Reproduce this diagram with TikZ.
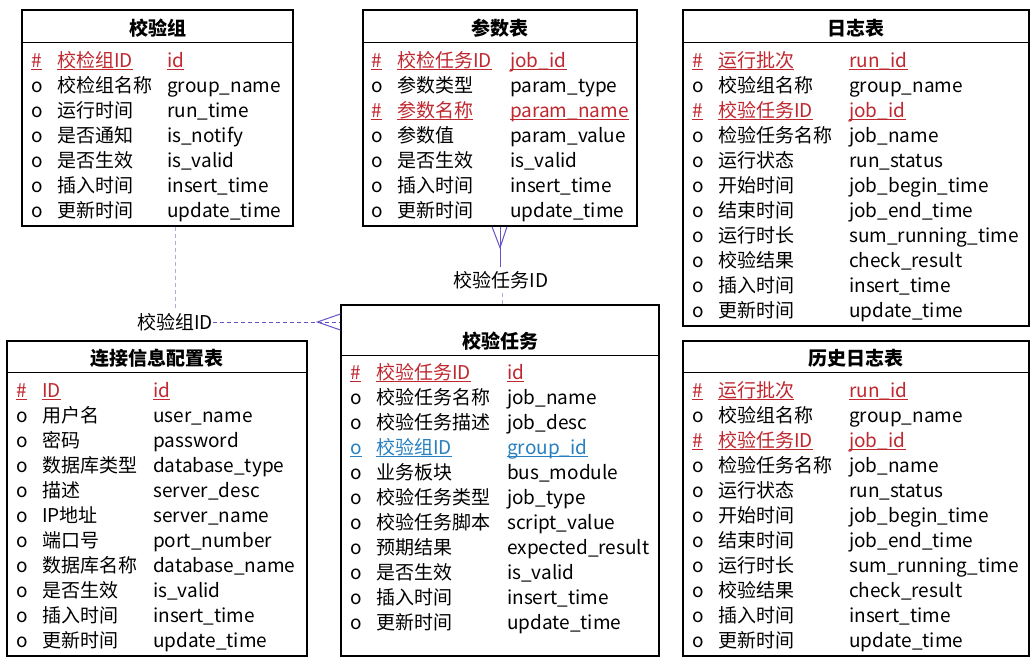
\documentclass[tikz,border=0pt]{standalone}
\usepackage{fontspec}
\setmainfont{Noto Sans CJK SC}
\definecolor{keyred}{RGB}{192,40,48}
\definecolor{keyblue}{RGB}{40,128,192}
\definecolor{relline}{RGB}{100,84,200}
\definecolor{relfaint}{RGB}{176,172,214}
\tikzset{
  tablebox/.style={draw=black, line width=1.3pt, inner sep=0pt},
  headline/.style={draw=black, line width=1.3pt},
  title/.style={anchor=base, inner sep=0pt, font=\fontsize{19}{21}\selectfont\bfseries},
  cell/.style={anchor=base west, inner sep=0pt, font=\fontsize{19}{21}\selectfont},
  rellabel/.style={inner sep=0pt, font=\fontsize{19}{21}\selectfont},
  crow/.style={draw=relline, line width=1pt},
  reldash/.style={draw=relline, line width=0.9pt, dash pattern=on 4pt off 3pt},
  faintdash/.style={draw=relfaint, line width=0.9pt, dash pattern=on 4pt off 3pt},
}
% column positions of the marker, the Chinese name and the field name
\newcommand\setcols[3]{\def\mx{#1}\def\cx{#2}\def\ex{#3}}
% one attribute row: prefix, baseline y, marker, name, field
\newcommand\tblrow[5]{%
  \node[cell] (#1-m) at (\mx,#2) {#3};
  \node[cell] (#1-c) at (\cx,#2) {#4};
  \node[cell] (#1-e) at (\ex,#2) {#5};}
% key row: coloured and underlined, last argument is the colour
\newcommand\keyrow[6]{%
  \node[cell,text=#6] (#1-m) at (\mx,#2) {#3};
  \node[cell,text=#6] (#1-c) at (\cx,#2) {#4};
  \node[cell,text=#6] (#1-e) at (\ex,#2) {#5};
  \foreach \part in {m,c,e}
    \draw[draw=#6, line width=1.6pt]
      ([yshift=-2.5pt]#1-\part.base west) -- ([yshift=-2.5pt]#1-\part.base east);}
\begin{document}
\begin{tikzpicture}[x=1pt,y=-1pt]
\useasboundingbox (0,0) rectangle (1036,664);
\fill[white] (0,0) rectangle (1036,664);

% ---------- 校验组 ----------
\node[tablebox, minimum width=271pt, minimum height=216pt] (grp) at (157.5,118) {};
\draw[headline] ([yshift=-33pt]grp.north west) -- ([yshift=-33pt]grp.north east);
\node[title] (grp-t) at (157.5,35) {校验组};
\setcols{31}{57}{167}
\keyrow{grp1}{67}{\#}{校检组ID}{id}{keyred}
\tblrow{grp2}{92}{o}{校检组名称}{group\_name}
\tblrow{grp3}{117}{o}{运行时间}{run\_time}
\tblrow{grp4}{142}{o}{是否通知}{is\_notify}
\tblrow{grp5}{167}{o}{是否生效}{is\_valid}
\tblrow{grp6}{192}{o}{插入时间}{insert\_time}
\tblrow{grp7}{217}{o}{更新时间}{update\_time}

% ---------- 参数表 ----------
\node[tablebox, minimum width=274pt, minimum height=216pt] (par) at (500,118) {};
\draw[headline] ([yshift=-33pt]par.north west) -- ([yshift=-33pt]par.north east);
\node[title] (par-t) at (500,35) {参数表};
\setcols{371}{397}{510}
\keyrow{par1}{67}{\#}{校检任务ID}{job\_id}{keyred}
\tblrow{par2}{92}{o}{参数类型}{param\_type}
\keyrow{par3}{117}{\#}{参数名称}{param\_name}{keyred}
\tblrow{par4}{142}{o}{参数值}{param\_value}
\tblrow{par5}{167}{o}{是否生效}{is\_valid}
\tblrow{par6}{192}{o}{插入时间}{insert\_time}
\tblrow{par7}{217}{o}{更新时间}{update\_time}

% ---------- 日志表 ----------
\node[tablebox, minimum width=346pt, minimum height=316pt] (log) at (856,168) {};
\draw[headline] ([yshift=-33pt]log.north west) -- ([yshift=-33pt]log.north east);
\node[title] (log-t) at (856,35) {日志表};
\setcols{692}{718}{849}
\keyrow{log1}{67}{\#}{运行批次}{run\_id}{keyred}
\tblrow{log2}{92}{o}{校验组名称}{group\_name}
\keyrow{log3}{117}{\#}{校验任务ID}{job\_id}{keyred}
\tblrow{log4}{142}{o}{检验任务名称}{job\_name}
\tblrow{log5}{167}{o}{运行状态}{run\_status}
\tblrow{log6}{192}{o}{开始时间}{job\_begin\_time}
\tblrow{log7}{217}{o}{结束时间}{job\_end\_time}
\tblrow{log8}{242}{o}{运行时长}{sum\_running\_time}
\tblrow{log9}{267}{o}{校验结果}{check\_result}
\tblrow{log10}{292}{o}{插入时间}{insert\_time}
\tblrow{log11}{317}{o}{更新时间}{update\_time}

% ---------- 连接信息配置表 ----------
\node[tablebox, minimum width=300pt, minimum height=315pt] (conn) at (157,498.5) {};
\draw[headline] ([yshift=-32pt]conn.north west) -- ([yshift=-32pt]conn.north east);
\node[title] (conn-t) at (157,365) {连接信息配置表};
\setcols{16}{42}{153}
\keyrow{conn1}{397}{\#}{ID}{id}{keyred}
\tblrow{conn2}{422}{o}{用户名}{user\_name}
\tblrow{conn3}{447}{o}{密码}{password}
\tblrow{conn4}{472}{o}{数据库类型}{database\_type}
\tblrow{conn5}{497}{o}{描述}{server\_desc}
\tblrow{conn6}{522}{o}{IP地址}{server\_name}
\tblrow{conn7}{547}{o}{端口号}{port\_number}
\tblrow{conn8}{572}{o}{数据库名称}{database\_name}
\tblrow{conn9}{597}{o}{是否生效}{is\_valid}
\tblrow{conn10}{622}{o}{插入时间}{insert\_time}
\tblrow{conn11}{647}{o}{更新时间}{update\_time}

% ---------- 校验任务 ----------
\node[tablebox, minimum width=318pt, minimum height=351pt] (task) at (500,480.5) {};
\draw[headline] ([yshift=-51pt]task.north west) -- ([yshift=-51pt]task.north east);
\node[title] (task-t) at (500,348) {校验任务};
\setcols{350}{376}{507}
\keyrow{task1}{379}{\#}{校验任务ID}{id}{keyred}
\tblrow{task2}{404}{o}{校验任务名称}{job\_name}
\tblrow{task3}{429}{o}{校验任务描述}{job\_desc}
\keyrow{task4}{454}{o}{校验组ID}{group\_id}{keyblue}
\tblrow{task5}{479}{o}{业务板块}{bus\_module}
\tblrow{task6}{504}{o}{校验任务类型}{job\_type}
\tblrow{task7}{529}{o}{校验任务脚本}{script\_value}
\tblrow{task8}{554}{o}{预期结果}{expected\_result}
\tblrow{task9}{579}{o}{是否生效}{is\_valid}
\tblrow{task10}{604}{o}{插入时间}{insert\_time}
\tblrow{task11}{629}{o}{更新时间}{update\_time}

% ---------- 历史日志表 ----------
\node[tablebox, minimum width=346pt, minimum height=315pt] (hist) at (856,498.5) {};
\draw[headline] ([yshift=-32pt]hist.north west) -- ([yshift=-32pt]hist.north east);
\node[title] (hist-t) at (856,365) {历史日志表};
\setcols{692}{718}{849}
\keyrow{hist1}{397}{\#}{运行批次}{run\_id}{keyred}
\tblrow{hist2}{422}{o}{校验组名称}{group\_name}
\keyrow{hist3}{447}{\#}{校验任务ID}{job\_id}{keyred}
\tblrow{hist4}{472}{o}{检验任务名称}{job\_name}
\tblrow{hist5}{497}{o}{运行状态}{run\_status}
\tblrow{hist6}{522}{o}{开始时间}{job\_begin\_time}
\tblrow{hist7}{547}{o}{结束时间}{job\_end\_time}
\tblrow{hist8}{572}{o}{运行时长}{sum\_running\_time}
\tblrow{hist9}{597}{o}{校验结果}{check\_result}
\tblrow{hist10}{622}{o}{插入时间}{insert\_time}
\tblrow{hist11}{647}{o}{更新时间}{update\_time}

% ---------- relationship: 校验组 -> 校验任务 ----------
\node[rellabel] (g2t) at (175,322) {校验组ID};
\coordinate (g2tend) at (task.west |- g2t);
\draw[faintdash] (grp.south -| g2t.north) -- ([yshift=4pt]g2t.north);
\draw[reldash] (g2t.east) -- (g2tend);
\draw[crow] (g2tend) ++(0,-8) -- ++(-23,8) -- ++(23,8);

% ---------- relationship: 校验任务 -> 参数表 ----------
\node[rellabel] (t2p) at (501,280) {校验任务ID};
\coordinate (t2pend) at (par.south);
\draw[crow] (t2pend) ++(-8,0) -- ++(8,21) -- ++(7,-21);
\draw[crow] (t2pend) -- ++(0,40);
\draw[faintdash] ([yshift=-4pt]t2p.south -| 502,0) -- (task.north -| 502,0);
\end{tikzpicture}
\end{document}
